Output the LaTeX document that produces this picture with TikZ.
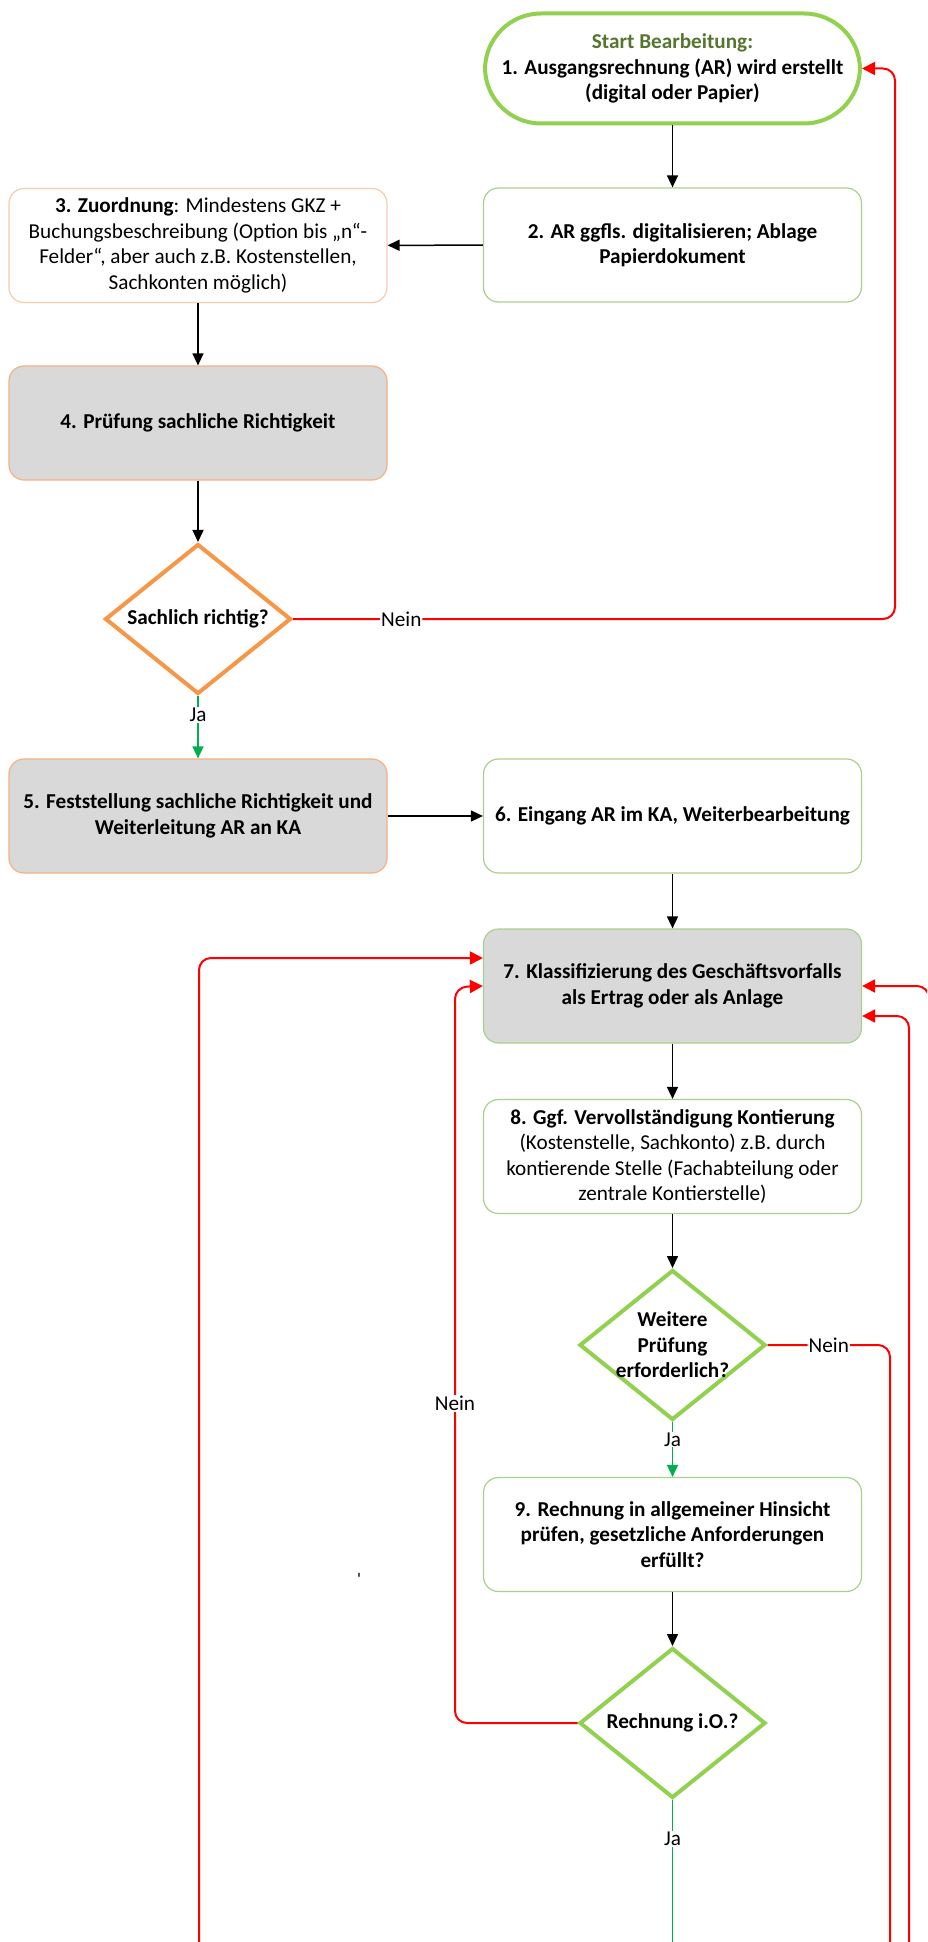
\documentclass[tikz,border=0pt]{standalone}
\usepackage{fontspec}
\setmainfont{Carlito}
\usetikzlibrary{arrows.meta,shapes.geometric}

\definecolor{termgreen}{HTML}{92D050}
\definecolor{boxgreen}{HTML}{A9D18E}
\definecolor{titlegreen}{HTML}{56752F}
\definecolor{paleorange}{HTML}{F8CBAD}
\definecolor{midorange}{HTML}{F4B183}
\definecolor{deeporange}{HTML}{F79646}
\definecolor{boxgray}{HTML}{D9D9D9}
\definecolor{noRed}{HTML}{FF0000}
\definecolor{yesGreen}{HTML}{00B050}

\newcommand{\flowfont}{\fontsize{21.2}{25.5}\selectfont}

\begin{document}
\begin{tikzpicture}[x=1pt,y=-1pt,
  every node/.style={font=\flowfont},
  procbox/.style={draw, rounded corners=15pt, minimum width=378pt,
    minimum height=114pt, align=center, inner sep=2pt, font=\flowfont\bfseries},
  greenbox/.style={procbox, draw=boxgreen, line width=1.2pt, fill=white},
  grayboxg/.style={procbox, draw=boxgreen, line width=1.2pt, fill=boxgray},
  grayboxo/.style={procbox, draw=midorange, line width=1.2pt, fill=boxgray},
  terminal/.style={draw=termgreen, line width=4pt, rounded corners=56pt,
    minimum width=375pt, minimum height=110pt, align=center, inner sep=2pt,
    font=\flowfont\bfseries},
  decision/.style={diamond, draw=#1, line width=4pt, fill=white,
    minimum width=186pt, minimum height=150pt, inner sep=0pt},
  qtext/.style={align=center, font=\flowfont\bfseries},
  lbl/.style={fill=white, inner sep=1pt, font=\flowfont},
  flow/.style={draw=black, line width=1.5pt, -{Triangle[length=12pt,width=11pt]}},
  yes/.style={draw=yesGreen, line width=1.5pt, -{Triangle[length=12pt,width=11pt]}},
  yesplain/.style={draw=yesGreen, line width=1.5pt},
  no/.style={draw=noRed, line width=2pt, rounded corners=12pt, -{Triangle[length=13pt,width=13pt]}},
  noplain/.style={draw=noRed, line width=2pt, rounded corners=12pt},
]
\clip (0,0) rectangle (927,1942);
\fill[white] (0,0) rectangle (927,1942);

% process steps
\node[terminal] (t1) at (672.5,68.5)
  {\textcolor{titlegreen}{Start Bearbeitung:}\\1. Ausgangsrechnung (AR) wird erstellt\\(digital oder Papier)};
\node[greenbox] (b2) at (672.5,245) {2. AR ggfls. digitalisieren; Ablage\\Papierdokument};
\node[procbox, draw=paleorange, line width=1.2pt, font=\flowfont] (b3) at (198,245.5)
  {\textbf{3. Zuordnung}: Mindestens GKZ +\\Buchungsbeschreibung (Option bis „n“-\\Felder“, aber auch z.B. Kostenstellen,\\Sachkonten möglich)};
\node[grayboxo] (b4) at (198,423) {4. Prüfung sachliche Richtigkeit};
\node[decision=deeporange, label={[qtext]center:Sachlich richtig?}] (d1) at (198,619) {};
\node[grayboxo] (b5) at (198,816) {5. Feststellung sachliche Richtigkeit und\\Weiterleitung AR an KA};
\node[greenbox] (b6) at (672.5,816) {6. Eingang AR im KA, Weiterbearbeitung};
\node[grayboxg] (b7) at (672.5,986) {7. Klassifizierung des Geschäftsvorfalls\\als Ertrag oder als Anlage};
\node[greenbox, font=\flowfont] (b8) at (672.5,1156.5)
  {\textbf{8. Ggf. Vervollständigung Kontierung}\\(Kostenstelle, Sachkonto) z.B. durch\\kontierende Stelle (Fachabteilung oder\\zentrale Kontierstelle)};
\node[decision=termgreen, label={[qtext]center:{Weitere\\Prüfung\\erforderlich?}}] (d2) at (672.5,1345) {};
\node[greenbox] (b9) at (672.5,1534.5) {9. Rechnung in allgemeiner Hinsicht\\prüfen, gesetzliche Anforderungen\\erfüllt?};
\node[decision=termgreen, label={[qtext]center:Rechnung i.O.?}] (d3) at (672.5,1723) {};
\node[inner sep=0pt, font=\fontsize{18}{18}\selectfont] (tick) at (359,1579) {\textquotesingle};

% loose ends running past the lower edge
\coordinate (endL)  at (199,1960);
\coordinate (endJa) at (672.5,1960);
\coordinate (endR1) at (890,1960);
\coordinate (endR2) at (909,1960);
\coordinate (endR3) at (929,1960);

% main flow
\draw[flow] (t1) -- (b2);
\draw[flow] (b2) -- (b3);
\draw[flow] (b3) -- (b4);
\draw[flow] (b4) -- (d1);
\draw[yes] (d1.south) -- node[lbl, pos=0.3] {Ja} (b5);
\draw[flow] (b5) -- (b6);
\draw[flow] (b6) -- (b7);
\draw[flow] (b7) -- (b8);
\draw[flow] (b8) -- (d2.north);
\draw[yes] (d2.south) -- node[lbl, pos=0.32] {Ja} (b9);
\draw[flow] (b9) -- (d3.north);
\draw[yesplain] (d3.south) -- node[lbl, pos=0.245] {Ja} (endJa);

% returns
\draw[no] (d1.east) -- node[lbl, pos=0.18] {Nein} (895,619) |- (t1.east);
\draw[no] (endL) |- ([yshift=28pt]b7.west);
\draw[no] (d3.west) -- (455,1723) -- node[lbl, pos=0.434] {Nein} (455,987) -- (b7.west);
\draw[noplain] (d2.east) -| node[lbl, pos=0.25] {Nein} (endR1);
\draw[no] (endR2) |- ([yshift=-30pt]b7.east);
\draw[no] (endR3) |- (b7.east);
\end{tikzpicture}
\end{document}
